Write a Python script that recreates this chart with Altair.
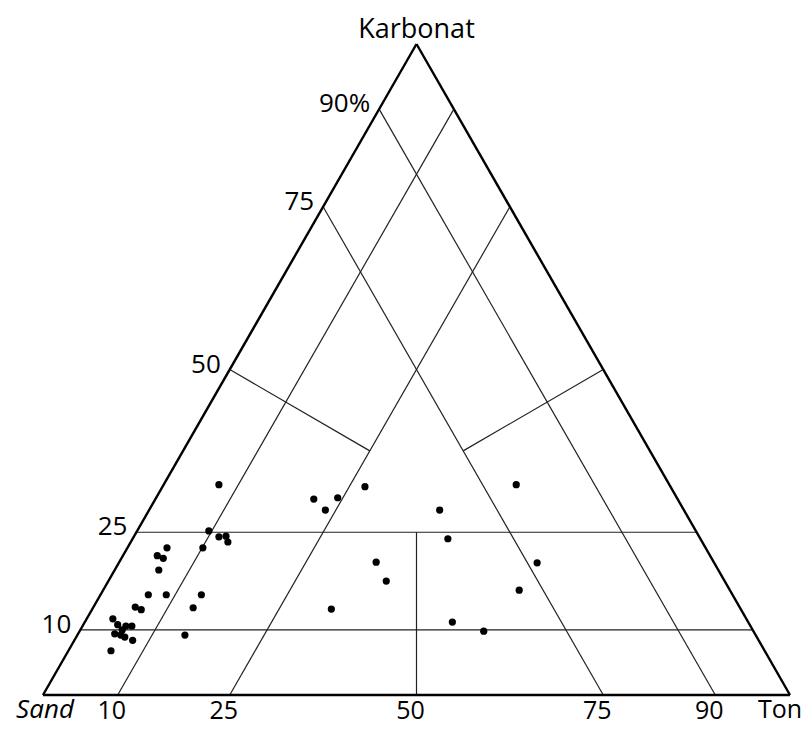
import altair as alt
import pandas as pd

# ---- measured samples (percent): Ton and Karbonat, Sand = 100 - Ton - Karbonat
ton = [7.4, 9.6, 11.4, 12.3, 13.0, 10.1, 5.3, 4.6, 5.6, 5.9,
       6.4, 8.8, 5.6, 6.6, 13.4, 13.5, 14.4, 3.5, 4.6, 5.6,
       5.8, 6.6, 4.9, 5.8, 6.5, 7.8, 5.7, 21.2, 24.3, 23.6,
       27.1, 34.4, 37.2, 32.0, 38.9, 42.2, 49.2, 54.1, 47.2, 56.0,
       55.7]
karbonat = [32.3, 25.2, 24.3, 24.4, 23.5, 22.6, 22.6, 21.4, 21.0, 19.2,
            15.4, 15.4, 13.5, 13.1, 13.4, 15.4, 9.2, 11.7, 10.8, 10.0,
            10.6, 10.6, 9.4, 9.2, 8.9, 8.4, 6.8, 30.1, 30.3, 28.4,
            32.0, 20.4, 17.5, 13.2, 28.4, 24.0, 11.2, 9.8, 32.3, 20.3,
            16.1]

# ---- classification lines (ternary endpoints, percent Ton / Karbonat)
seg_kind = ["edge", "edge", "edge",
            "grid", "grid", "grid", "grid", "grid", "grid", "grid", "grid", "grid"]
seg_t1 = [0, 0, 100, 0, 0, 10, 25, 90, 75, 0, 50, 50]
seg_k1 = [0, 0, 0, 10, 25, 0, 0, 0, 0, 50, 50, 0]
seg_t2 = [100, 0, 0, 90, 75, 10, 25, 0, 0, 25, 37.5, 37.5]
seg_k2 = [0, 100, 100, 10, 25, 90, 75, 90, 75, 37.5, 37.5, 25]

# ---- axis labels
ton_ticks = [10, 25, 50, 75, 90]
karb_ticks = [10, 25, 50, 75, 90]
karb_tick_text = ["10", "25", "50", "75", "90%"]
vertex_names = ["Sand", "Ton", "Karbonat"]
vertex_ton = [0, 100, 0]
vertex_karb = [0, 0, 100]

FONT = "Open Sans"
xs = alt.Scale(domain=[0, 1], nice=False, zero=False)
ys = alt.Scale(domain=[0, 1], nice=False, zero=False)

segs = pd.DataFrame({"kind": seg_kind, "t1": seg_t1, "k1": seg_k1,
                     "t2": seg_t2, "k2": seg_k2})
base_seg = alt.Chart(segs).transform_calculate(
    x1="(datum.t1 + datum.k1 / 2) / 100",
    y1="datum.k1 / 100",
    x2="(datum.t2 + datum.k2 / 2) / 100",
    y2="datum.k2 / 100",
)
enc = dict(
    x=alt.X("x1:Q", scale=xs, axis=None),
    y=alt.Y("y1:Q", scale=ys, axis=None),
    x2="x2:Q",
    y2="y2:Q",
)
edges = base_seg.transform_filter("datum.kind == 'edge'").mark_rule(
    color="black", strokeWidth=2.4).encode(**enc)
grid = base_seg.transform_filter("datum.kind == 'grid'").mark_rule(
    color="#222222", strokeWidth=1.2).encode(**enc)

pts = pd.DataFrame({"ton": ton, "karbonat": karbonat})
points = alt.Chart(pts).transform_calculate(
    x="(datum.ton + datum.karbonat / 2) / 100",
    y="datum.karbonat / 100",
).mark_circle(color="black", opacity=1, size=52).encode(
    x=alt.X("x:Q", scale=xs, axis=None),
    y=alt.Y("y:Q", scale=ys, axis=None),
)

bt = pd.DataFrame({"v": ton_ticks})
bottom_labels = alt.Chart(bt).transform_calculate(
    x="datum.v / 100", y="0", lab="'' + datum.v"
).mark_text(font=FONT, fontSize=25, align="center", baseline="alphabetic",
            dx=-6, dy=24, color="black").encode(
    x=alt.X("x:Q", scale=xs, axis=None),
    y=alt.Y("y:Q", scale=ys, axis=None),
    text="lab:N",
)

lt = pd.DataFrame({"v": karb_ticks, "lab": karb_tick_text})
left_labels = alt.Chart(lt).transform_calculate(
    x="datum.v / 200", y="datum.v / 100"
).mark_text(font=FONT, fontSize=26, align="right", baseline="middle",
            dx=-9, dy=-5, color="black").encode(
    x=alt.X("x:Q", scale=xs, axis=None),
    y=alt.Y("y:Q", scale=ys, axis=None),
    text="lab:N",
)

vt = pd.DataFrame({"name": vertex_names, "t": vertex_ton, "k": vertex_karb})
vbase = alt.Chart(vt).transform_calculate(
    x="(datum.t + datum.k / 2) / 100", y="datum.k / 100")
venc = dict(x=alt.X("x:Q", scale=xs, axis=None),
            y=alt.Y("y:Q", scale=ys, axis=None), text="name:N")
sand_lab = vbase.transform_filter("datum.name == 'Sand'").mark_text(
    font=FONT, fontSize=26, fontStyle="italic", align="center",
    baseline="alphabetic", dx=2, dy=23, color="black").encode(**venc)
ton_lab = vbase.transform_filter("datum.name == 'Ton'").mark_text(
    font=FONT, fontSize=25, align="center", baseline="alphabetic",
    dx=-10, dy=23, color="black").encode(**venc)
karb_lab = vbase.transform_filter("datum.name == 'Karbonat'").mark_text(
    font=FONT, fontSize=27, align="center", baseline="alphabetic",
    dx=0, dy=-6, color="black").encode(**venc)

chart = alt.layer(
    grid, edges, points, bottom_labels, left_labels, sand_lab, ton_lab, karb_lab
).properties(
    width=747, height=651,
    autosize=alt.AutoSizeParams(type="none"),
    padding={"left": 35, "top": 36, "right": 14, "bottom": 30},
    background="white",
).configure_view(stroke=None)

chart.save("out.html", embed_options={"renderer": "svg", "actions": False})
